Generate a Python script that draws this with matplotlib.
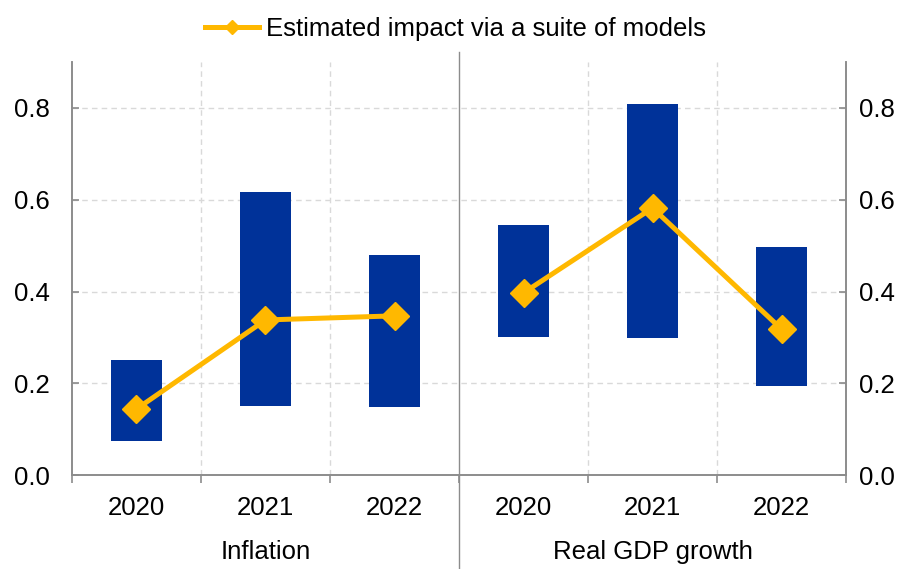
import matplotlib
matplotlib.use("Agg")
import matplotlib.pyplot as plt
import numpy as np

plt.rcParams['font.family'] = ['Liberation Sans', 'DejaVu Sans']

groups = ["Inflation", "Real GDP growth"]
years = ["2020", "2021", "2022"]

range_low = [0.075, 0.150, 0.148, 0.300, 0.298, 0.195]
range_high = [0.250, 0.617, 0.480, 0.545, 0.808, 0.498]
suite_models = [0.144, 0.338, 0.347, 0.397, 0.582, 0.318]

blue = "#003299"
yellow = "#FFB800"
axis_grey = "#8c8c8c"
grid_grey = "#d9d9d9"


def main():
  fig = plt.figure(figsize=(9.11, 5.69), dpi=100)
  ax = fig.add_axes([0.079, 0.165, 0.8497, 0.726])

  x = np.arange(len(suite_models))
  low = np.array(range_low)
  high = np.array(range_high)

  ax.bar(x, high - low, bottom=low, width=0.4, color=blue, zorder=2)
  ax.plot(x[:3], suite_models[:3], color=yellow, lw=3.6, marker='D', ms=14.5,
          zorder=3)
  ax.plot(x[3:], suite_models[3:], color=yellow, lw=3.6, marker='D', ms=14.5,
          zorder=3)
  # legend proxy
  ax.plot([], [], color=yellow, lw=3.6, marker='D', ms=7,
          label="Estimated impact via a suite of models")

  ax.set_xlim(-0.5, 5.5)
  ax.set_ylim(0, 0.9)
  yt = [0.0, 0.2, 0.4, 0.6, 0.8]
  ax.set_yticks(yt)
  ax.set_yticklabels(["%.1f" % v for v in yt])

  # gridlines
  for yy in yt[1:]:
    ax.axhline(yy, color=grid_grey, lw=1, ls=(0, (4, 3)), zorder=1)
  for xx in [0.5, 1.5, 3.5, 4.5]:
    ax.axvline(xx, color=grid_grey, lw=1, ls=(0, (4, 3)), zorder=1)

  # separator between the two panels
  ax.plot([2.5, 2.5], [-0.228, 1.024], color=axis_grey, lw=1,
          transform=ax.get_xaxis_transform(), clip_on=False, zorder=4)

  ax.set_xticks(x)
  ax.set_xticklabels(years * 2)
  ax.set_xticks(np.arange(-0.5, 6.0, 1.0), minor=True)
  ax.tick_params(axis='x', which='major', length=0, pad=15, labelsize=18.5)
  ax.tick_params(axis='x', which='minor', length=6, direction='out',
                 color=axis_grey, width=1.2)
  ax.tick_params(axis='y', direction='in', length=5, color=axis_grey,
                 width=1.2, labelsize=18.5, left=True, right=False, pad=16)

  ax2 = ax.twinx()
  ax2.set_ylim(0, 0.9)
  ax2.set_yticks(yt)
  ax2.set_yticklabels(["%.1f" % v for v in yt])
  ax2.tick_params(axis='y', direction='in', length=5, color=axis_grey,
                  width=1.2, labelsize=18.5, pad=9)
  for a in (ax, ax2):
    a.spines['top'].set_visible(False)
    for s in ['left', 'right', 'bottom']:
      a.spines[s].set_color(axis_grey)
      a.spines[s].set_linewidth(1.2)

  for i, g in enumerate(groups):
    ax.text(1 + 3 * i, -0.185, g, transform=ax.get_xaxis_transform(),
            ha='center', va='center', fontsize=18.5)

  fig.legend(loc='upper center', bbox_to_anchor=(0.5, 1.01), frameon=False,
             fontsize=18.5, handlelength=2.1, handletextpad=0.25)

  fig.savefig("out.png", dpi=100)


if __name__ == "__main__":
  main()
